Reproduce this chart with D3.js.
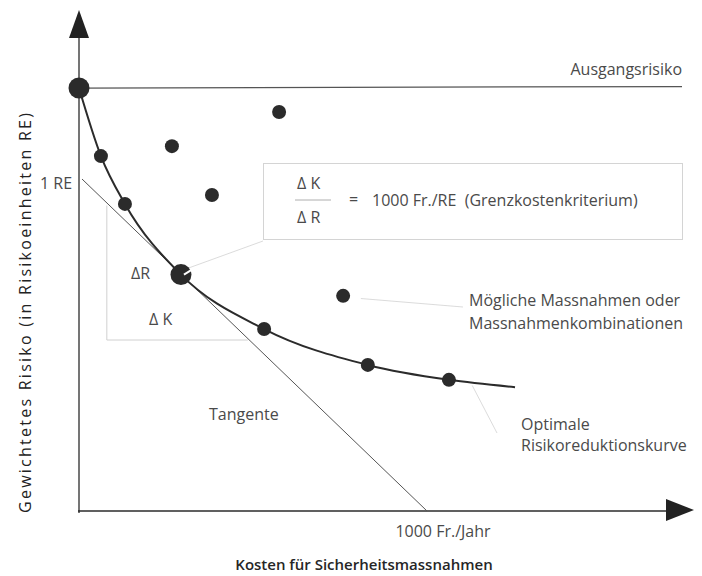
<!DOCTYPE html>
<html><head><meta charset="utf-8">
<script src="https://cdn.jsdelivr.net/npm/d3@7"></script>
<style>
html,body{margin:0;padding:0;background:#fff;}
text{font-family:"Open Sans","Noto Sans",sans-serif;white-space:pre;}
</style></head>
<body><svg id="c" width="702" height="576"></svg>
<script>
// Data (cost in Fr./Jahr, risk in RE)
const curveCost = [0, 63, 132, 293, 532, 830, 1063, 1253];
const curveRisk = [1.274, 1.069, 0.925, 0.712, 0.548, 0.440, 0.395, 0.373];
const curveDotIdx = [0, 1, 2, 3, 4, 5, 6];
const bigDotIdx = [0, 3];
const otherCost = [267, 382, 575, 759];
const otherRisk = [1.099, 0.952, 1.202, 0.648];
const baseRisk = 1.274;
const tangentCost = [0, 1000];
const tangentRisk = [1, 0];
const triCost = [80, 485];
const triRisk = [0.92, 0.515];
const xTickLabel = "1000 Fr./Jahr";
const yTickLabel = "1 RE";

const svg = d3.select("#c");
const x = d3.scaleLinear().domain([0, 1000]).range([79, 427]);
const y = d3.scaleLinear().domain([0, 1]).range([511, 179]);
const ink = "#2b2b2b", txt = "#4a4a4a", faint = "#d2d2d2";

// light box and leader lines
svg.append("rect").attr("x", 263.5).attr("y", 163.5).attr("width", 419).attr("height", 76)
  .attr("fill", "none").attr("stroke", "#d4d4d4").attr("stroke-width", 1);
const leaders = [
  [[x(310), y(0.73)], [263, 241]],
  [[x(810), y(0.64)], [463, 307]],
  [[x(1130), y(0.378)], [497, 433]]
];
leaders.forEach(l => svg.append("line").attr("x1", l[0][0]).attr("y1", l[0][1]).attr("x2", l[1][0]).attr("y2", l[1][1])
  .attr("stroke", faint).attr("stroke-width", 0.8));
// triangle legs
svg.append("path").attr("d", d3.line()([[x(triCost[0]), y(triRisk[0])], [x(triCost[0]), y(triRisk[1])], [x(triCost[1]), y(triRisk[1])]]))
  .attr("fill", "none").attr("stroke", "#d0d0d0").attr("stroke-width", 1);

// axes
svg.append("line").attr("x1", 79).attr("y1", 513).attr("x2", 79).attr("y2", 30).attr("stroke", ink).attr("stroke-width", 1.3);
svg.append("line").attr("x1", 78).attr("y1", 511).attr("x2", 675).attr("y2", 511).attr("stroke", ink).attr("stroke-width", 1.3);
svg.append("path").attr("d", "M79,10 L69,38 L89,38 Z").attr("fill", "#222");
svg.append("path").attr("d", "M694,510 L666,499 L666,521 Z").attr("fill", "#222");

// baseline risk line
svg.append("line").attr("x1", x(0)).attr("y1", y(baseRisk)).attr("x2", 682).attr("y2", y(baseRisk) - 1.5)
  .attr("stroke", "#555").attr("stroke-width", 1.2);

// tangent
svg.append("line").attr("x1", x(tangentCost[0]) + 3).attr("y1", y(tangentRisk[0]))
  .attr("x2", x(tangentCost[1])).attr("y2", y(tangentRisk[1]))
  .attr("stroke", "#555").attr("stroke-width", 1);

// optimal curve
const pts = curveCost.map((c, i) => [x(c), y(curveRisk[i])]);
svg.append("path").attr("d", d3.line().curve(d3.curveMonotoneX)(pts))
  .attr("fill", "none").attr("stroke", ink).attr("stroke-width", 2);

// dots
curveDotIdx.forEach(i => {
  const big = bigDotIdx.includes(i);
  svg.append("circle").attr("cx", x(curveCost[i])).attr("cy", y(curveRisk[i])).attr("r", big ? 10.5 : 7).attr("fill", ink);
});
otherCost.forEach((c, i) => svg.append("circle").attr("cx", x(c)).attr("cy", y(otherRisk[i])).attr("r", 7).attr("fill", ink));
// notch on tangent point
const tp = pts[3];
svg.append("line").attr("x1", tp[0] + 3).attr("y1", tp[1]).attr("x2", tp[0] + 11).attr("y2", tp[1] - 5)
  .attr("stroke", "#fff").attr("stroke-width", 2);

// texts
const T = (s, xx, yy, opts = {}) => svg.append("text").attr("x", xx).attr("y", yy).text(s)
  .attr("font-size", opts.size || 16).attr("fill", opts.fill || txt).attr("font-weight", opts.w || 400)
  .attr("text-anchor", opts.anchor || "start");
T("Ausgangsrisiko", 682, 75, {anchor: "end"});
T(yTickLabel, 40, 189);
T(xTickLabel, 443, 537, {anchor: "middle"});
T("Tangente", 209, 420);
T("\u0394R", 131, 279);
T("\u0394 K", 149, 325);
T("\u0394 K", 297, 189);
svg.append("line").attr("x1", 295).attr("y1", 200).attr("x2", 331).attr("y2", 200).attr("stroke", "#999").attr("stroke-width", 0.8);
T("\u0394 R", 297, 223);
T("=", 349, 205);
T("1000 Fr./RE  (Grenzkostenkriterium)", 372, 206);
T("Mögliche Massnahmen oder", 469, 306);
T("Massnahmenkombinationen", 469, 329);
T("Optimale", 521, 430);
T("Risikoreduktionskurve", 521, 451);
T("Kosten für Sicherheitsmassnahmen", 364, 570, {anchor: "middle", size: 15, w: 600, fill: "#262626"});
svg.append("text").attr("transform", "translate(31,313) rotate(-90)").attr("text-anchor", "middle")
  .attr("font-size", 16).attr("font-weight", 500).attr("fill", "#222")
  .attr("textLength", 400).attr("lengthAdjust", "spacing")
  .text("Gewichtetes Risiko (in Risikoeinheiten RE)");
</script></body></html>
